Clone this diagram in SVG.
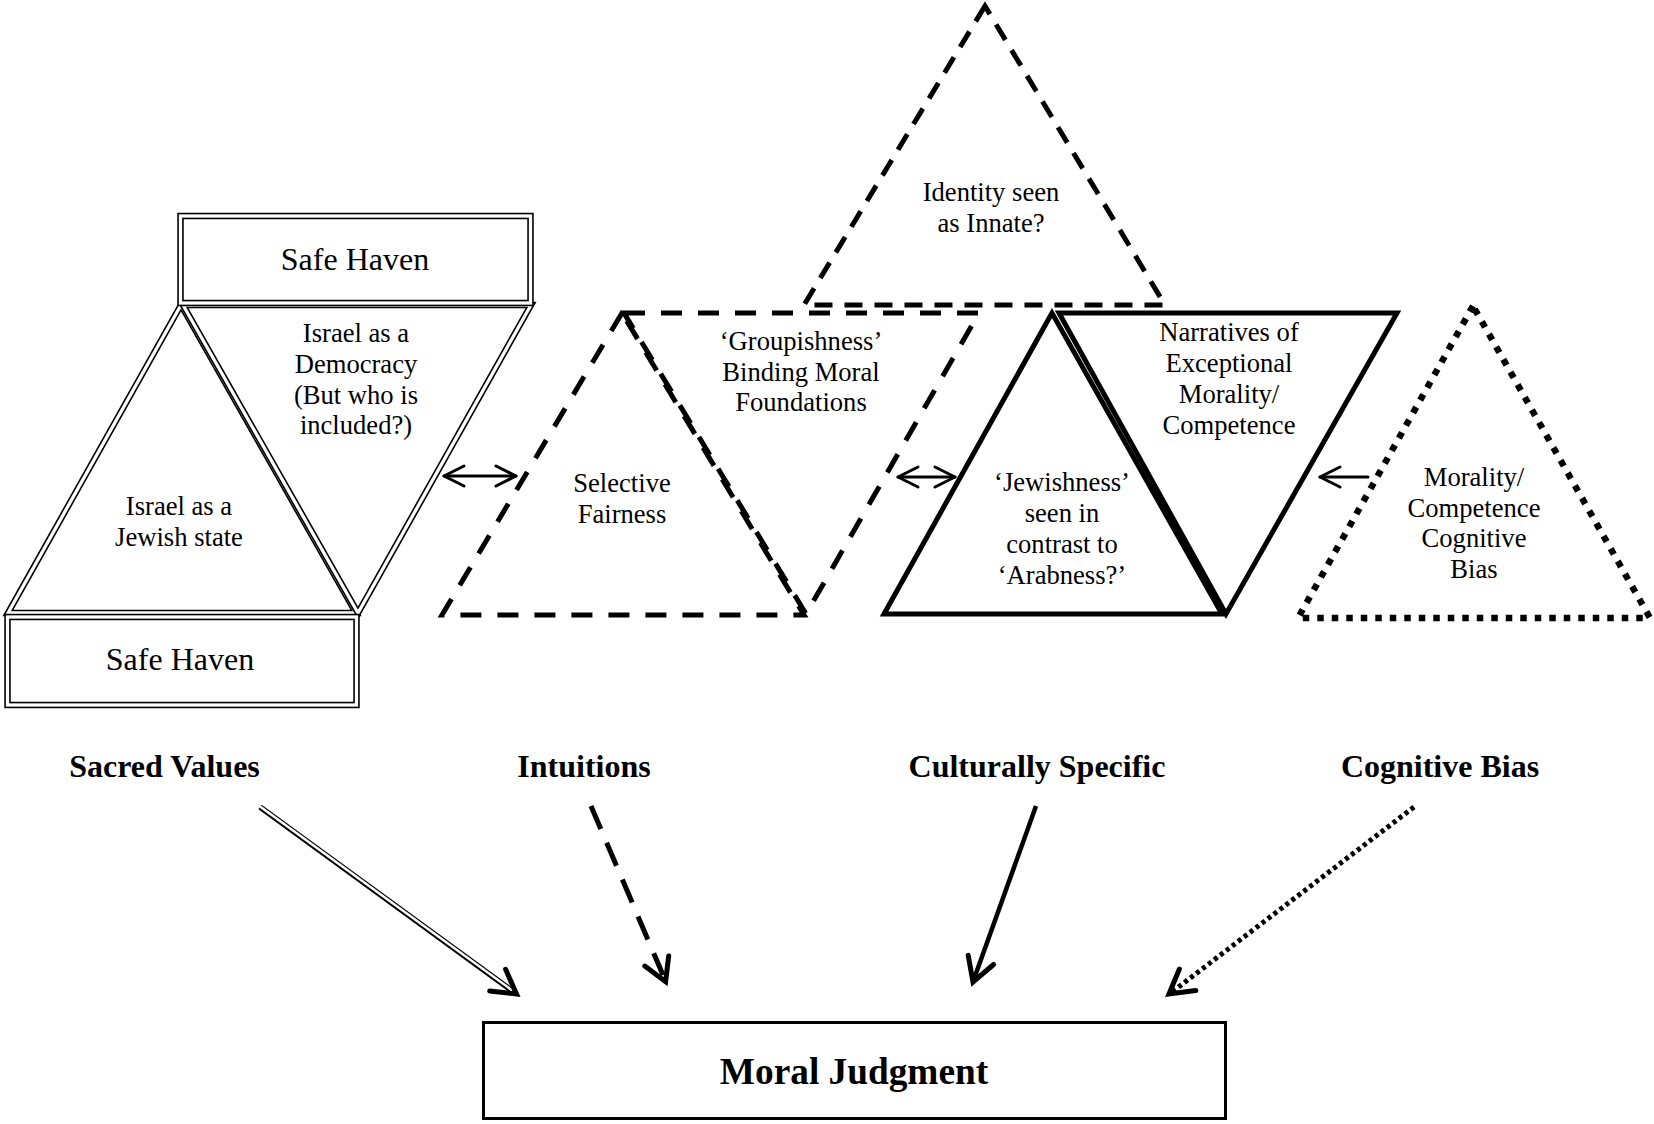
<svg xmlns="http://www.w3.org/2000/svg" width="1654" height="1124" viewBox="0 0 1654 1124">
  <defs>
    <style>
      text { font-family: "Liberation Serif", "Times New Roman", serif; fill: #000; text-anchor: middle; }
      .lbl { font-size: 26.6px; }
      .haven { font-size: 32px; }
      .cat { font-size: 32px; font-weight: bold; }
      .judg { font-size: 37.3px; font-weight: bold; }
      .dbl-outer { fill: none; stroke: #000; stroke-width: 6.5; stroke-linejoin: miter; }
      .dbl-inner { fill: none; stroke: #fff; stroke-width: 3.3; stroke-linejoin: miter; }
      .dash { fill: none; stroke: #000; stroke-width: 5; stroke-dasharray: 21 16; }
      .dash-s { fill: none; stroke: #000; stroke-width: 5; stroke-dasharray: 18 12; }
      .solid { fill: none; stroke: #000; stroke-width: 5; stroke-linejoin: miter; }
      .dots { fill: none; stroke: #000; stroke-width: 6.5; stroke-dasharray: 6.5 8; }
      .link { fill: none; stroke: #000; stroke-width: 3; stroke-linecap: round; stroke-linejoin: round; }
      .head { fill: none; stroke: #000; stroke-width: 5; stroke-linecap: round; stroke-linejoin: miter; }
    </style>
  </defs>

  <rect x="0" y="0" width="1654" height="1124" fill="#fff"/>

  <!-- Sacred values cluster: two triangles framed by two boxes (double rule) -->
  <g id="jewish-state">
    <polygon class="dbl-outer" points="181,305 8,613 356,613"/>
    <polygon class="dbl-inner" points="181,305 8,613 356,613"/>
    <text class="lbl" x="179" y="515">Israel as a</text>
    <text class="lbl" x="179" y="546">Jewish state</text>
  </g>
  <g id="democracy">
    <polygon class="dbl-outer" points="183,305 531,305 358,613"/>
    <polygon class="dbl-inner" points="183,305 531,305 358,613"/>
    <text class="lbl" x="356" y="342">Israel as a</text>
    <text class="lbl" x="356" y="373">Democracy</text>
    <text class="lbl" x="356" y="404">(But who is</text>
    <text class="lbl" x="356" y="434">included?)</text>
  </g>
  <g id="safe-haven-top">
    <rect class="dbl-outer" x="180.5" y="216" width="350" height="87"/>
    <rect class="dbl-inner" x="180.5" y="216" width="350" height="87"/>
    <text class="haven" x="355" y="270">Safe Haven</text>
  </g>
  <g id="safe-haven-bottom">
    <rect class="dbl-outer" x="7.5" y="617" width="349" height="88"/>
    <rect class="dbl-inner" x="7.5" y="617" width="349" height="88"/>
    <text class="haven" x="180" y="670">Safe Haven</text>
  </g>

  <!-- Intuitions cluster (dashed) -->
  <g id="selective-fairness">
    <polygon class="dash" points="622,313 442,615 804,615"/>
    <text class="lbl" x="622" y="492">Selective</text>
    <text class="lbl" x="622" y="523">Fairness</text>
  </g>
  <g id="groupishness">
    <polygon class="dash" points="624,313 979,313 806,614"/>
    <text class="lbl" x="801" y="350">‘Groupishness’</text>
    <text class="lbl" x="801" y="381">Binding Moral</text>
    <text class="lbl" x="801" y="411">Foundations</text>
  </g>
  <g id="identity-innate">
    <polygon class="dash-s" points="985,6 804,305 1165,305"/>
    <text class="lbl" x="991" y="201">Identity seen</text>
    <text class="lbl" x="991" y="232">as Innate?</text>
  </g>

  <!-- Culturally specific cluster (solid) -->
  <g id="jewishness">
    <polygon class="solid" points="1052,313 884,614 1222,614"/>
    <text class="lbl" x="1062" y="491">‘Jewishness’</text>
    <text class="lbl" x="1062" y="522">seen in</text>
    <text class="lbl" x="1062" y="553">contrast to</text>
    <text class="lbl" x="1062" y="584">‘Arabness?’</text>
  </g>
  <g id="narratives">
    <polygon class="solid" points="1059,313 1397,313 1226,614"/>
    <text class="lbl" x="1229" y="341">Narratives of</text>
    <text class="lbl" x="1229" y="372">Exceptional</text>
    <text class="lbl" x="1229" y="403">Morality/</text>
    <text class="lbl" x="1229" y="434">Competence</text>
  </g>

  <!-- Cognitive bias (dotted) -->
  <g id="competence-bias">
    <polygon class="dots" points="1473,306 1298,618 1650,618"/>
    <text class="lbl" x="1474" y="486">Morality/</text>
    <text class="lbl" x="1474" y="517">Competence</text>
    <text class="lbl" x="1474" y="547">Cognitive</text>
    <text class="lbl" x="1474" y="578">Bias</text>
  </g>

  <!-- Category labels -->
  <g id="label-sacred"><text class="cat" x="164.5" y="777">Sacred Values</text></g>
  <g id="label-intuitions"><text class="cat" x="584" y="777">Intuitions</text></g>
  <g id="label-cultural"><text class="cat" x="1037" y="777">Culturally Specific</text></g>
  <g id="label-cognitive"><text class="cat" x="1440" y="777">Cognitive Bias</text></g>

  <!-- Outcome -->
  <g id="moral-judgment">
    <rect x="483.5" y="1022.5" width="742" height="96" fill="none" stroke="#000" stroke-width="3"/>
    <text class="judg" x="854" y="1084">Moral Judgment</text>
  </g>

  <!-- Connectors -->
  <g id="connectors">
    <!-- two-way links between clusters -->
    <line class="link" x1="444" y1="476" x2="516" y2="476"/>
    <polyline class="link" points="464,466 444,476 464,486"/>
    <polyline class="link" points="496,466 516,476 496,486"/>

    <line class="link" x1="898" y1="477" x2="955" y2="477"/>
    <polyline class="link" points="918,467 898,477 918,487"/>
    <polyline class="link" points="935,467 955,477 935,487"/>

    <!-- one-way link from cognitive bias -->
    <line class="link" x1="1320" y1="477" x2="1368" y2="477"/>
    <polyline class="link" points="1340,467 1320,477 1340,487"/>

    <!-- sacred values: double rule -->
    <line x1="260" y1="807" x2="511" y2="990" stroke="#000" stroke-width="5.5"/>
    <line x1="258" y1="805" x2="513" y2="991" stroke="#fff" stroke-width="2.5"/>
    <polyline class="head" points="505.6,969.3 516.5,994 489.7,991"/>

    <!-- intuitions: dashed -->
    <line x1="591" y1="806" x2="663" y2="975" stroke="#000" stroke-width="5" stroke-dasharray="25 15"/>
    <polyline class="head" points="668.7,955.9 665.6,981.7 644.8,966.1"/>

    <!-- culturally specific: solid -->
    <line x1="1036" y1="806" x2="974" y2="979" stroke="#000" stroke-width="4.5"/>
    <polyline class="head" points="993.6,964.5 973,982 968.2,955.4"/>

    <!-- cognitive bias: dotted -->
    <line x1="1414" y1="807" x2="1172" y2="992" stroke="#000" stroke-width="5" stroke-dasharray="4 3.5"/>
    <polyline class="head" points="1179.4,969 1169,994 1195.8,990.5"/>
  </g>
</svg>
